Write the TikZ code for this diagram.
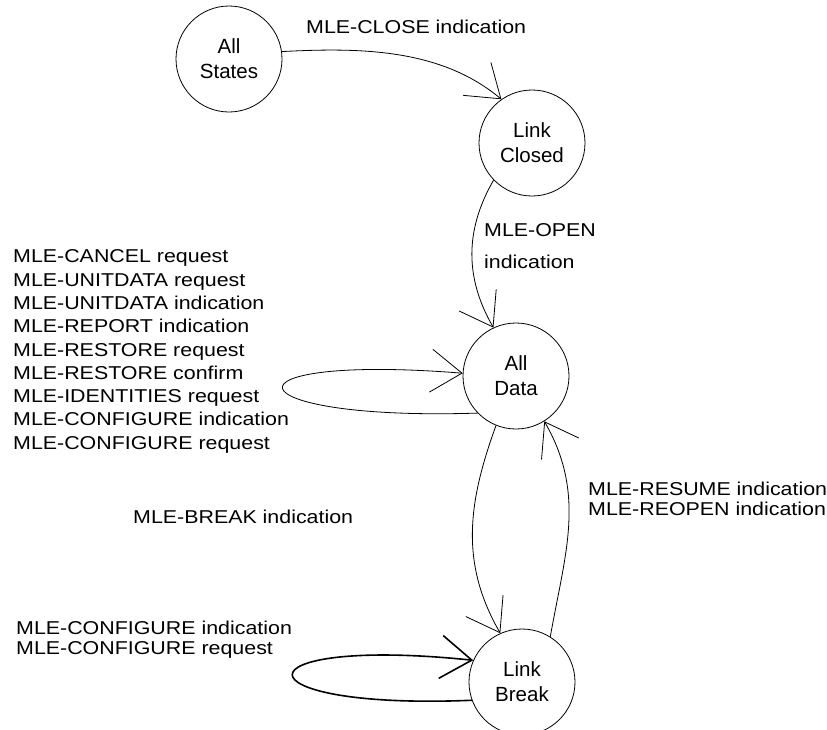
\documentclass[tikz,border=0pt]{standalone}
\usepackage{fontspec}
\setmainfont{Liberation Sans}
\newfontfamily\widesans{Liberation Sans}[FakeStretch=1.15]
\usetikzlibrary{arrows.meta}

\begin{document}
\begin{tikzpicture}[
    x=1pt, y=1pt,
    state/.style={draw, circle, minimum size=106pt, inner sep=0pt, align=center,
                  font=\fontsize{20.5}{25}\selectfont, line width=0.8pt},
    lbl/.style={anchor=west, align=left, inner sep=0pt,
                font=\widesans\fontsize{18.6}{20}\selectfont},
    line/.style={-{Straight Barb[length=31pt, width=43pt]}, line width=0.8pt}
]
\useasboundingbox (0,0) rectangle (827,-729);

\node[state] (states) at (229,-59)  {All\\States};
\node[state] (closed) at (532,-143) {Link\\Closed};
\node[state] (data)   at (516,-376) {All\\Data};
\node[state] (brk)    at (522,-682) {Link\\Break};

% transitions
\draw[line] (states.8) to[out=3, in=140, looseness=0.9] (closed.125);
\draw[line] (closed.224) to[out=240, in=120] (data.115);
\draw[line] (data.224) .. controls +(-250,-8) and +(-250,20) .. (data.177);
\draw[line] (data.248) to[out=250, in=120] (brk.114);
\draw[line] (brk.58) to[out=80, in=300] (data.302);
\draw[line, line width=1.6pt] (brk.200) .. controls +(-240,-10) and +(-240,25) .. (brk.156);

% labels
\node[lbl] (lclose) at (306,-27) {MLE-CLOSE indication};
\node[lbl, font=\widesans\fontsize{18.6}{32}\selectfont] (lopen) at (484,-246)
    {MLE-OPEN\\indication};
\node[lbl, font=\widesans\fontsize{18.6}{23.3}\selectfont] (ldata) at (13,-351.5)
    {MLE-CANCEL request\\MLE-UNITDATA request\\MLE-UNITDATA indication\\
     MLE-REPORT indication\\MLE-RESTORE request\\MLE-RESTORE confirm\\
     MLE-IDENTITIES request\\MLE-CONFIGURE indication\\MLE-CONFIGURE request};
\node[lbl] (lbreak)  at (133,-517) {MLE-BREAK indication};
\node[lbl] (lresume) at (588,-499) {MLE-RESUME indication\\MLE-REOPEN indication};
\node[lbl] (lconf)   at (16,-640)  {MLE-CONFIGURE indication\\MLE-CONFIGURE request};
\end{tikzpicture}
\end{document}
